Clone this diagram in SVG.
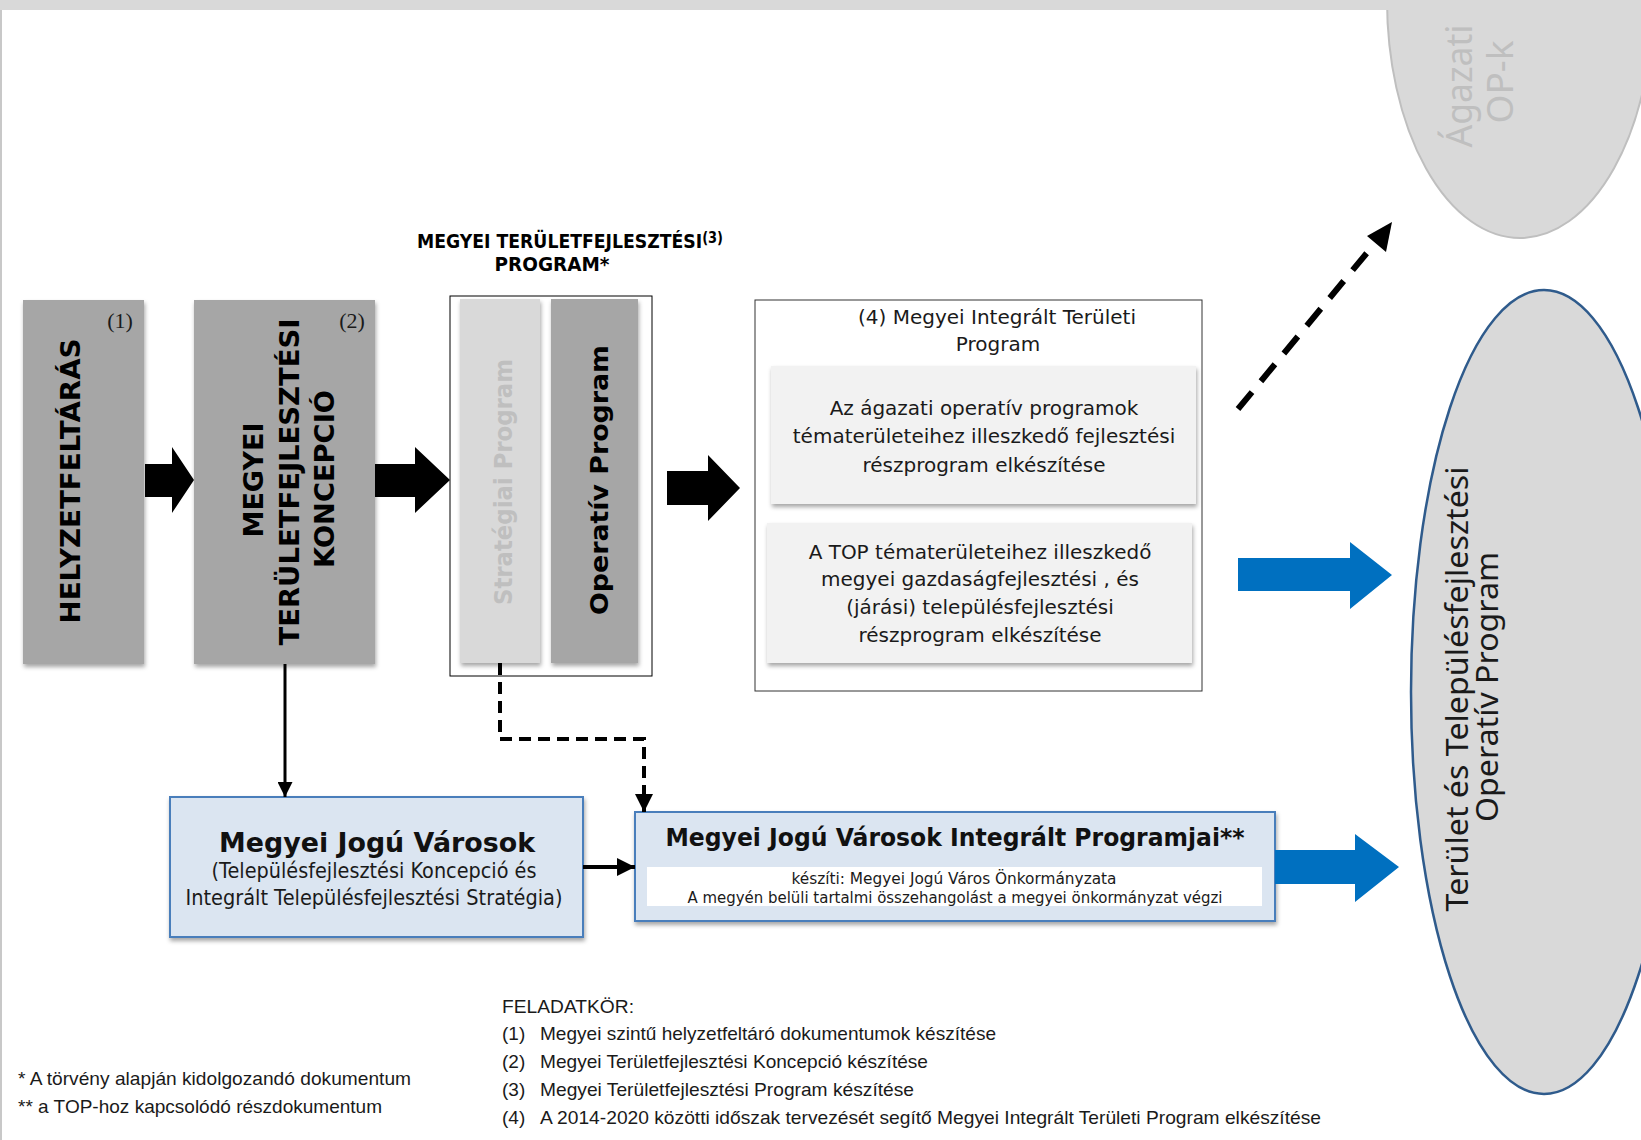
<svg xmlns="http://www.w3.org/2000/svg" width="1641" height="1140" viewBox="0 0 1641 1140">
<defs>
<filter id="sh" x="-10%" y="-10%" width="130%" height="130%">
<feDropShadow dx="1" dy="3" stdDeviation="2" flood-color="#000" flood-opacity="0.35"/>
</filter>
<marker id="ah" viewBox="0 0 10 10" refX="10" refY="5" markerWidth="5" markerHeight="5" orient="auto" markerUnits="strokeWidth">
<path d="M0,0 L10,5 L0,10 z" fill="#000"/>
</marker>
<marker id="ah2" viewBox="0 0 10 10" refX="10" refY="5" markerWidth="4.5" markerHeight="4.5" orient="auto" markerUnits="strokeWidth">
<path d="M0,0 L10,5 L0,10 z" fill="#000"/>
</marker>
</defs>
<style>
.gbox{fill:#a6a6a6;filter:url(#sh)}
.rb{font-family:"DejaVu Sans",sans-serif;font-weight:bold;text-anchor:middle}
.tah{font-family:"DejaVu Sans",sans-serif;text-anchor:middle;fill:#1a1a1a}
.nar{font-family:"Liberation Sans",Arial,sans-serif;fill:#1a1a1a}
.cal{font-family:"Noto Sans",sans-serif;text-anchor:middle}
.num{font-family:"Liberation Serif",serif;font-size:22px;text-anchor:middle;fill:#1a1a1a}
.blk{fill:#000}
.blue{fill:#0070c0}
.mjv{fill:#dbe5f1;stroke:#4a7ebb;stroke-width:2;filter:url(#sh)}
</style>
<rect x="0" y="0" width="1641" height="1140" fill="#fff"/>

<g id="agazati">
<ellipse cx="1520" cy="0" rx="133" ry="238" fill="#d9d9d9" stroke="#bfbfbf" stroke-width="2"/>
<text class="cal" font-size="36" fill="#bfbfbf" textLength="123" lengthAdjust="spacingAndGlyphs" transform="translate(1472,86) rotate(-90)">Ágazati</text>
<text class="cal" font-size="36" fill="#bfbfbf" textLength="83" lengthAdjust="spacingAndGlyphs" transform="translate(1513,82) rotate(-90)">OP-k</text>
</g>
<rect x="0" y="0" width="1641" height="10" fill="#d9d9d9"/>
<rect x="0" y="10" width="2" height="1130" fill="#c8c8c8"/>

<g id="top">
<ellipse cx="1544" cy="692" rx="133" ry="402" fill="#d9d9d9" stroke="#2f5b8c" stroke-width="2.5"/>
<text class="cal" font-size="30" fill="#1a1a1a" textLength="445" lengthAdjust="spacingAndGlyphs" transform="translate(1468,689) rotate(-90)">Terület és Településfejlesztési</text>
<text class="cal" font-size="30" fill="#1a1a1a" textLength="270" lengthAdjust="spacingAndGlyphs" transform="translate(1498,687) rotate(-90)">Operatív Program</text>
</g>

<g id="helyzetfeltaras">
<rect class="gbox" x="23" y="300" width="121" height="364"/>
<text class="num" x="120" y="328">(1)</text>
<text class="rb" font-size="26" textLength="285" lengthAdjust="spacingAndGlyphs" transform="translate(80,481) rotate(-90)">HELYZETFELTÁRÁS</text>
</g>

<g id="koncepcio">
<rect class="gbox" x="194" y="300" width="181" height="364"/>
<text class="num" x="352" y="328">(2)</text>
<text class="rb" font-size="26" textLength="115" lengthAdjust="spacingAndGlyphs" transform="translate(263,480) rotate(-90)">MEGYEI</text>
<text class="rb" font-size="26" textLength="327" lengthAdjust="spacingAndGlyphs" transform="translate(299,482) rotate(-90)">TERÜLETFEJLESZTÉSI</text>
<text class="rb" font-size="26" textLength="178" lengthAdjust="spacingAndGlyphs" transform="translate(334,479) rotate(-90)">KONCEPCIÓ</text>
</g>

<g id="program">
<text class="rb" font-size="20" x="417" y="248" style="text-anchor:start" textLength="306" lengthAdjust="spacingAndGlyphs">MEGYEI TERÜLETFEJLESZTÉSI<tspan font-size="15" dy="-5">(3)</tspan></text>
<text class="rb" font-size="20" x="552" y="271" textLength="115" lengthAdjust="spacingAndGlyphs">PROGRAM*</text>
<rect x="450" y="296" width="202" height="380" fill="#fff" stroke="#000" stroke-width="1"/>
<rect x="460" y="299" width="80" height="364" fill="#d9d9d9" filter="url(#sh)"/>
<rect class="gbox" x="551" y="299" width="87" height="364"/>
<text class="rb" font-size="24" fill="#bfbfbf" textLength="246" lengthAdjust="spacingAndGlyphs" transform="translate(512,482) rotate(-90)">Stratégiai Program</text>
<text class="rb" font-size="25" textLength="270" lengthAdjust="spacingAndGlyphs" transform="translate(608,480) rotate(-90)">Operatív Program</text>
</g>

<g id="mitp">
<rect x="755" y="300" width="447" height="391" fill="#fff" stroke="#333" stroke-width="1"/>
<text class="tah" font-size="20" x="997" y="324">(4) Megyei Integrált Területi</text>
<text class="tah" font-size="20" x="998" y="351">Program</text>
<rect x="771" y="366" width="425" height="138" fill="#f2f2f2" filter="url(#sh)"/>
<text class="tah" font-size="20" x="984" y="415">Az ágazati operatív programok</text>
<text class="tah" font-size="20" x="984" y="443">tématerületeihez illeszkedő fejlesztési</text>
<text class="tah" font-size="20" x="984" y="472">részprogram elkészítése</text>
<rect x="767" y="523" width="425" height="140" fill="#f2f2f2" filter="url(#sh)"/>
<text class="tah" font-size="20" x="980" y="559">A TOP tématerületeihez illeszkedő</text>
<text class="tah" font-size="20" x="980" y="586">megyei gazdaságfejlesztési , és</text>
<text class="tah" font-size="20" x="980" y="614">(járási) településfejlesztési</text>
<text class="tah" font-size="20" x="980" y="642">részprogram elkészítése</text>
</g>

<g id="mjv">
<rect class="mjv" x="170" y="797" width="413" height="140"/>
<text class="rb" font-size="26" x="377" y="852" textLength="316" lengthAdjust="spacingAndGlyphs" fill="#111">Megyei Jogú Városok</text>
<text class="tah" font-size="21" x="374" y="878" textLength="325" lengthAdjust="spacingAndGlyphs">(Településfejlesztési Koncepció és</text>
<text class="tah" font-size="21" x="374" y="905" textLength="377" lengthAdjust="spacingAndGlyphs">Integrált Településfejlesztési  Stratégia)</text>
</g>

<g id="mjvip">
<rect class="mjv" x="635" y="812" width="640" height="109"/>
<text class="rb" font-size="24" x="955" y="846" textLength="579" lengthAdjust="spacingAndGlyphs" fill="#111">Megyei Jogú Városok Integrált Programjai**</text>
<rect x="647" y="867" width="615" height="39" fill="#fff"/>
<text class="tah" font-size="16" x="954" y="884" textLength="325" lengthAdjust="spacingAndGlyphs">készíti: Megyei Jogú Város Önkormányzata</text>
<text class="tah" font-size="16" x="955" y="903" textLength="535" lengthAdjust="spacingAndGlyphs">A megyén belüli tartalmi összehangolást a megyei önkormányzat végzi</text>
</g>

<g id="connectors">
<polygon class="blk" points="145,464 172,464 172,447 194,480 172,513 172,497 145,497"/>
<polygon class="blk" points="375,464 415,464 415,447 450,480 415,513 415,497 375,497"/>
<polygon class="blk" points="667,471 708,471 708,455 740,488 708,521 708,505 667,505"/>
<line x1="1238" y1="409" x2="1385" y2="231" stroke="#000" stroke-width="6" stroke-dasharray="22,14"/>
<polygon class="blk" points="1392,222 1386,252 1367,236"/>
<polygon class="blue" points="1238,558 1350,558 1350,542 1392,575 1350,609 1350,591 1238,591"/>
<polygon class="blue" points="1275,850 1355,850 1355,834 1399,867 1355,902 1355,884 1275,884"/>
<line x1="285" y1="664" x2="285" y2="797" stroke="#000" stroke-width="3" marker-end="url(#ah)"/>
<path d="M500,663 V739 H644 V812" fill="none" stroke="#000" stroke-width="4" stroke-dasharray="12,7" marker-end="url(#ah2)"/>
<line x1="583" y1="867" x2="635" y2="867" stroke="#000" stroke-width="4" marker-end="url(#ah2)"/>
</g>

<g id="legend">
<text class="nar" font-size="19" x="502" y="1013" textLength="132" lengthAdjust="spacingAndGlyphs">FELADATKÖR:</text>
<text class="nar" font-size="19" x="502" y="1040">(1)</text>
<text class="nar" font-size="19" x="540" y="1040" textLength="456" lengthAdjust="spacingAndGlyphs">Megyei szintű helyzetfeltáró  dokumentumok  készítése</text>
<text class="nar" font-size="19" x="502" y="1068">(2)</text>
<text class="nar" font-size="19" x="540" y="1068" textLength="388" lengthAdjust="spacingAndGlyphs">Megyei Területfejlesztési  Koncepció  készítése</text>
<text class="nar" font-size="19" x="502" y="1096">(3)</text>
<text class="nar" font-size="19" x="540" y="1096" textLength="374" lengthAdjust="spacingAndGlyphs">Megyei Területfejlesztési  Program készítése</text>
<text class="nar" font-size="19" x="502" y="1124">(4)</text>
<text class="nar" font-size="19" x="540" y="1124" textLength="781" lengthAdjust="spacingAndGlyphs">A 2014-2020 közötti időszak tervezését segítő  Megyei Integrált  Területi Program elkészítése</text>
<text class="nar" font-size="19" x="18" y="1085" textLength="393" lengthAdjust="spacingAndGlyphs">* A törvény alapján kidolgozandó  dokumentum</text>
<text class="nar" font-size="19" x="18" y="1113" textLength="364" lengthAdjust="spacingAndGlyphs">** a TOP-hoz kapcsolódó  részdokumentum</text>
</g>
</svg>
